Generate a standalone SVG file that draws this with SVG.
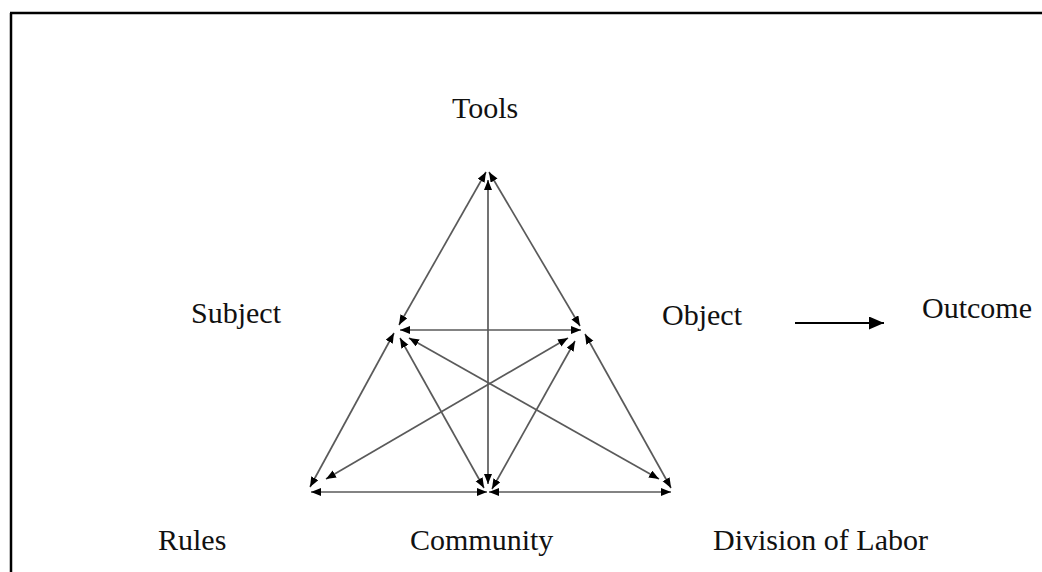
<svg xmlns="http://www.w3.org/2000/svg" width="1042" height="572" viewBox="0 0 1042 572">
<style>
.lbl{font-family:"Liberation Serif","Times New Roman",serif;font-size:30px;fill:#111}
.edge{stroke:#5a5a5a;stroke-width:1.7;fill:none;marker-start:url(#ah);marker-end:url(#ah)}
.frame{stroke:#000;stroke-width:2.5;fill:none}
</style>
<defs>
<marker id="ah" markerUnits="userSpaceOnUse" markerWidth="11" markerHeight="9" refX="10" refY="4" orient="auto-start-reverse">
<path d="M0,0 L10,4 L0,8 z" fill="#000"/>
</marker>
<marker id="big" markerUnits="userSpaceOnUse" markerWidth="16" markerHeight="14" refX="15" refY="6.5" orient="auto">
<path d="M0,0 L15,6.5 L0,13 z" fill="#000"/>
</marker>
</defs>
<g id="frame">
<line class="frame" x1="10" y1="13" x2="1042" y2="13"/>
<line class="frame" x1="11" y1="13" x2="11" y2="572"/>
</g>
<g id="connectors">
<line class="edge" x1="486" y1="172" x2="399" y2="325"/>
<line class="edge" x1="489" y1="172" x2="580" y2="326"/>
<line class="edge" x1="488" y1="180" x2="488" y2="484"/>
<line class="edge" x1="400" y1="330" x2="581" y2="330"/>
<line class="edge" x1="394" y1="333" x2="310" y2="487"/>
<line class="edge" x1="400" y1="338" x2="484" y2="488"/>
<line class="edge" x1="409" y1="338" x2="659" y2="479"/>
<line class="edge" x1="568" y1="338" x2="326" y2="479"/>
<line class="edge" x1="575" y1="341" x2="492" y2="489"/>
<line class="edge" x1="585" y1="334" x2="671" y2="488"/>
<line class="edge" x1="311" y1="492" x2="487" y2="492"/>
<line class="edge" x1="489" y1="492" x2="671" y2="492"/>
<line x1="795" y1="323" x2="884" y2="323" stroke="#000" stroke-width="2" marker-end="url(#big)"/>
</g>
<g id="tools"><text class="lbl" x="452" y="118">Tools</text></g>
<g id="subject"><text class="lbl" x="191" y="323">Subject</text></g>
<g id="object"><text class="lbl" x="662" y="325">Object</text></g>
<g id="outcome"><text class="lbl" x="922" y="318">Outcome</text></g>
<g id="rules"><text class="lbl" x="158" y="550">Rules</text></g>
<g id="community"><text class="lbl" x="410" y="550">Community</text></g>
<g id="division"><text class="lbl" x="713" y="550">Division of Labor</text></g>
</svg>
